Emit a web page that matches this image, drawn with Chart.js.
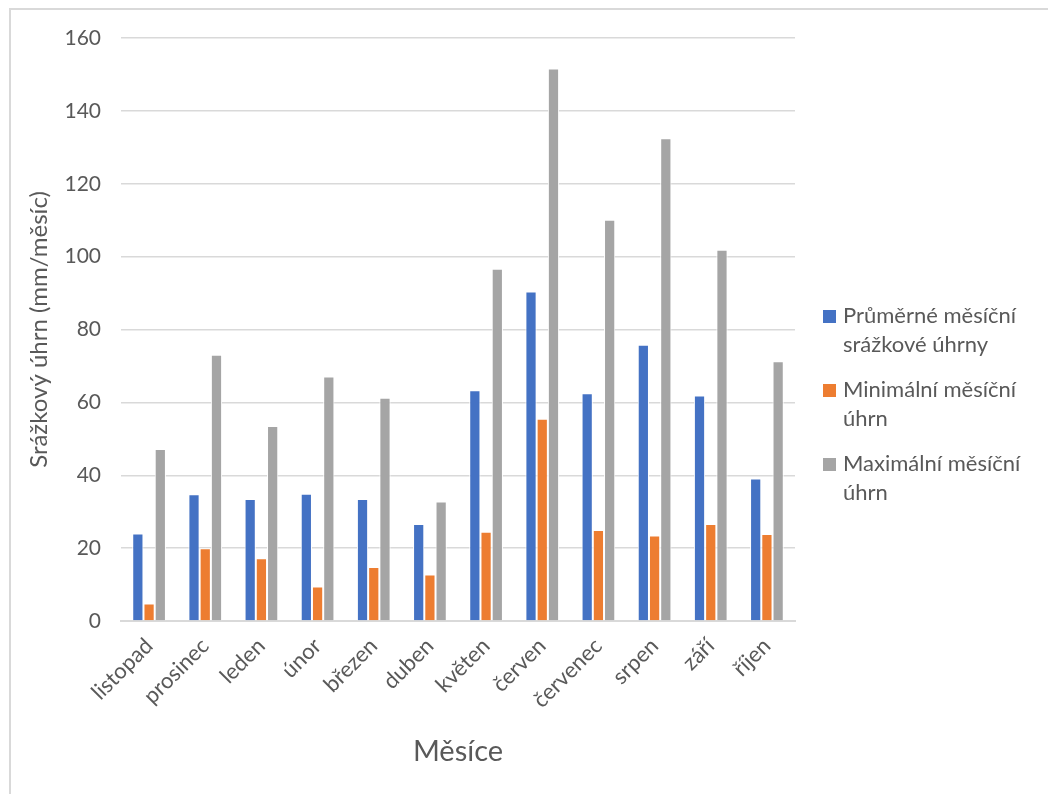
<!DOCTYPE html>
<html>
<head>
<meta charset="utf-8">
<script src="https://cdn.jsdelivr.net/npm/chart.js@4"></script>
<style>
  body { margin: 0; background: #fff; }
  #frame {
    position: absolute; left: 9px; top: 8px; width: 1100px; height: 900px;
    border: 2px solid #d9d9d9; box-sizing: border-box;
  }
  #wrap { position: absolute; left: 0; top: 0; width: 1048px; height: 794px; }
</style>
</head>
<body>
<div id="frame"></div>
<div id="wrap"><canvas id="chart"></canvas></div>
<script>
// Data
const months = ["listopad", "prosinec", "leden", "únor", "březen", "duben",
  "květen", "červen", "červenec", "srpen", "září", "říjen"];
const avgRain = [24.0, 34.8, 33.5, 34.9, 33.5, 26.6, 63.3, 90.4, 62.5, 75.8, 61.9, 39.1];
const minRain = [4.8, 20.0, 17.2, 9.5, 14.8, 12.8, 24.5, 55.5, 25.0, 23.5, 26.6, 23.9];
const maxRain = [47.2, 73.1, 53.5, 67.1, 61.3, 32.8, 96.7, 151.6, 110.1, 132.5, 101.9, 71.3];
const seriesNames = [
  ["Průměrné měsíční", "srážkové úhrny"],
  ["Minimální měsíční", "úhrn"],
  ["Maximální měsíční", "úhrn"],
];
const seriesColors = ["#4472C4", "#ED7D31", "#A5A5A5"];

const FONT = "Lato, 'Liberation Sans', sans-serif";
const TEXT = "#595959";

// Legend drawn on the right, two lines per entry
const sideLegend = {
  id: "sideLegend",
  afterDraw(chart) {
    const ctx = chart.ctx;
    ctx.save();
    ctx.font = "22px " + FONT;
    ctx.textBaseline = "middle";
    let y = 316;
    seriesNames.forEach((lines, i) => {
      ctx.fillStyle = seriesColors[i];
      ctx.fillRect(823, y - 6, 13, 13);
      ctx.fillStyle = TEXT;
      lines.forEach((line, j) => ctx.fillText(line, 843, y + j * 29));
      y += 74;
    });
    ctx.restore();
  },
};

const ctx = document.getElementById("chart").getContext("2d");
new Chart(ctx, {
  type: "bar",
  data: {
    labels: months,
    datasets: [avgRain, minRain, maxRain].map((d, i) => ({
      label: seriesNames[i].join(" "),
      data: d,
      backgroundColor: seriesColors[i],
      borderColor: "#ffffff",
      borderWidth: 1,
      borderSkipped: "bottom",
      categoryPercentage: 0.6,
      barPercentage: 1,
    })),
  },
  options: {
    responsive: true,
    maintainAspectRatio: false,
    animation: false,
    layout: { padding: { left: 25, right: 253, top: 38, bottom: 25 } },
    plugins: {
      legend: { display: false },
      tooltip: { enabled: false },
    },
    scales: {
      x: {
        grid: { display: false },
        border: { color: "#d9d9d9", width: 2 },
        ticks: {
          color: TEXT,
          font: { family: FONT, size: 22 },
          minRotation: 45,
          maxRotation: 45,
          padding: 4,
        },
        title: {
          display: true,
          text: "Měsíce",
          color: TEXT,
          font: { family: FONT, size: 29 },
          padding: { top: 17, bottom: 0 },
        },
        // let the rotated labels hang out instead of shrinking the plot
        afterFit(scale) {
          scale.paddingLeft = 0;
          scale.paddingRight = 0;
        },
      },
      y: {
        min: 0,
        max: 160,
        ticks: {
          stepSize: 20,
          color: TEXT,
          font: { family: FONT, size: 21 },
          padding: 20,
        },
        grid: { color: "#d9d9d9", lineWidth: 1.5, drawTicks: false },
        border: { display: false },
        title: {
          display: true,
          text: "Srážkový úhrn (mm/měsíc)",
          color: TEXT,
          font: { family: FONT, size: 24 },
          padding: { top: 0, bottom: 14 },
        },
        afterFit(scale) {
          scale.width = 96;
        },
      },
    },
  },
  plugins: [sideLegend],
});
</script>
</body>
</html>
